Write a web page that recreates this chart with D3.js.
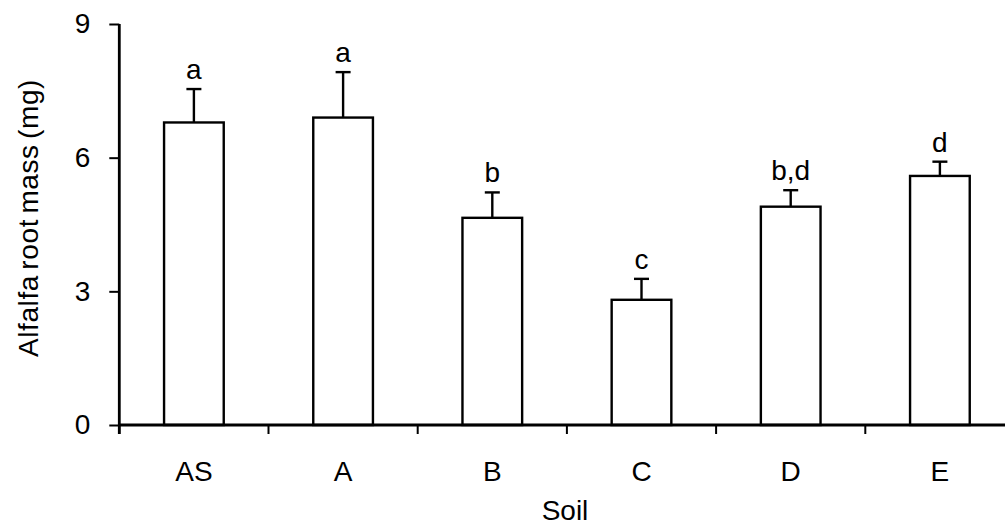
<!DOCTYPE html>
<html>
<head>
<meta charset="utf-8">
<script src="https://cdn.jsdelivr.net/npm/d3@7"></script>
<style>
  html, body { margin: 0; padding: 0; background: #fff; }
  svg { display: block; }
  text { font-family: Arial, "Liberation Sans", sans-serif; fill: #000; }
</style>
</head>
<body>
<svg id="chart" width="1005" height="527"></svg>
<script>
// Alfalfa root mass per soil, mean + upper error bar, with significance letters
const soils = ["AS", "A", "B", "C", "D", "E"];
const rootMass = [6.79, 6.90, 4.65, 2.81, 4.90, 5.59];
const errors = [0.75, 1.02, 0.57, 0.47, 0.37, 0.32];
const groups = ["a", "a", "b", "c", "b,d", "d"];
const yTicks = [0, 3, 6, 9];

const svg = d3.select("#chart");
const fontSize = 28;

const x = d3.scaleBand()
  .domain(soils)
  .range([119.3, 1014.5])
  .paddingInner(0.6)
  .paddingOuter(0.3);

const y = d3.scaleLinear().domain([0, 9]).range([425, 24]);

// bars
svg.append("g").selectAll("rect")
  .data(soils)
  .join("rect")
  .attr("x", d => x(d))
  .attr("y", (d, i) => y(rootMass[i]))
  .attr("width", x.bandwidth())
  .attr("height", (d, i) => y(0) - y(rootMass[i]))
  .attr("fill", "#fff")
  .attr("stroke", "#000")
  .attr("stroke-width", 2.4);

// error bars (upper only)
const capW = 15;
const eb = svg.append("g").attr("stroke", "#000").attr("stroke-width", 2.4);
soils.forEach((s, i) => {
  const cx = x(s) + x.bandwidth() / 2;
  eb.append("line")
    .attr("x1", cx).attr("x2", cx)
    .attr("y1", y(rootMass[i])).attr("y2", y(rootMass[i] + errors[i]));
  eb.append("line")
    .attr("x1", cx - capW / 2).attr("x2", cx + capW / 2)
    .attr("y1", y(rootMass[i] + errors[i])).attr("y2", y(rootMass[i] + errors[i]));
});

// significance letters
svg.append("g").selectAll("text")
  .data(soils)
  .join("text")
  .attr("x", d => x(d) + x.bandwidth() / 2)
  .attr("y", (d, i) => y(rootMass[i] + errors[i]) - 10)
  .attr("text-anchor", "middle")
  .attr("font-size", fontSize)
  .text((d, i) => groups[i]);

// x axis with boundary ticks between categories
const xEdge = d3.scaleLinear().domain([0, soils.length]).range(x.range());
const xAxisG = svg.append("g").attr("transform", "translate(0,425)");
xAxisG.append("line")
  .attr("x1", x.range()[0]).attr("x2", x.range()[1])
  .attr("stroke", "#000").attr("stroke-width", 2.8);
xAxisG.selectAll("line.tick")
  .data(d3.range(soils.length + 1))
  .join("line")
  .attr("class", "tick")
  .attr("x1", d => xEdge(d)).attr("x2", d => xEdge(d))
  .attr("y1", 0).attr("y2", 9)
  .attr("stroke", "#000").attr("stroke-width", 2);
xAxisG.selectAll("text")
  .data(soils)
  .join("text")
  .attr("x", d => x(d) + x.bandwidth() / 2)
  .attr("y", 56)
  .attr("text-anchor", "middle")
  .attr("font-size", fontSize)
  .text(d => d);

// y axis
const yAxisG = svg.append("g").attr("transform", "translate(119.3,0)");
yAxisG.call(d3.axisLeft(y).tickValues(yTicks).tickSize(10).tickPadding(19))
  .call(g => g.select(".domain").attr("stroke-width", 2.8).attr("d", `M0,${y(9)}V${y(0) + 9}`))
  .call(g => g.selectAll(".tick line").attr("stroke-width", 2))
  .call(g => g.selectAll(".tick text")
    .attr("font-size", fontSize)
    .attr("font-family", "Arial, 'Liberation Sans', sans-serif")
    .attr("fill", "#000"));

// axis titles
svg.append("text")
  .attr("x", 565)
  .attr("y", 520)
  .attr("text-anchor", "middle")
  .attr("font-size", fontSize)
  .text("Soil");

svg.append("text")
  .attr("transform", "translate(38,218) rotate(-90)")
  .attr("text-anchor", "middle")
  .attr("font-size", fontSize)
  .attr("word-spacing", -3)
  .attr("letter-spacing", 0.6)
  .text("Alfalfa root mass (mg)");
</script>
</body>
</html>
